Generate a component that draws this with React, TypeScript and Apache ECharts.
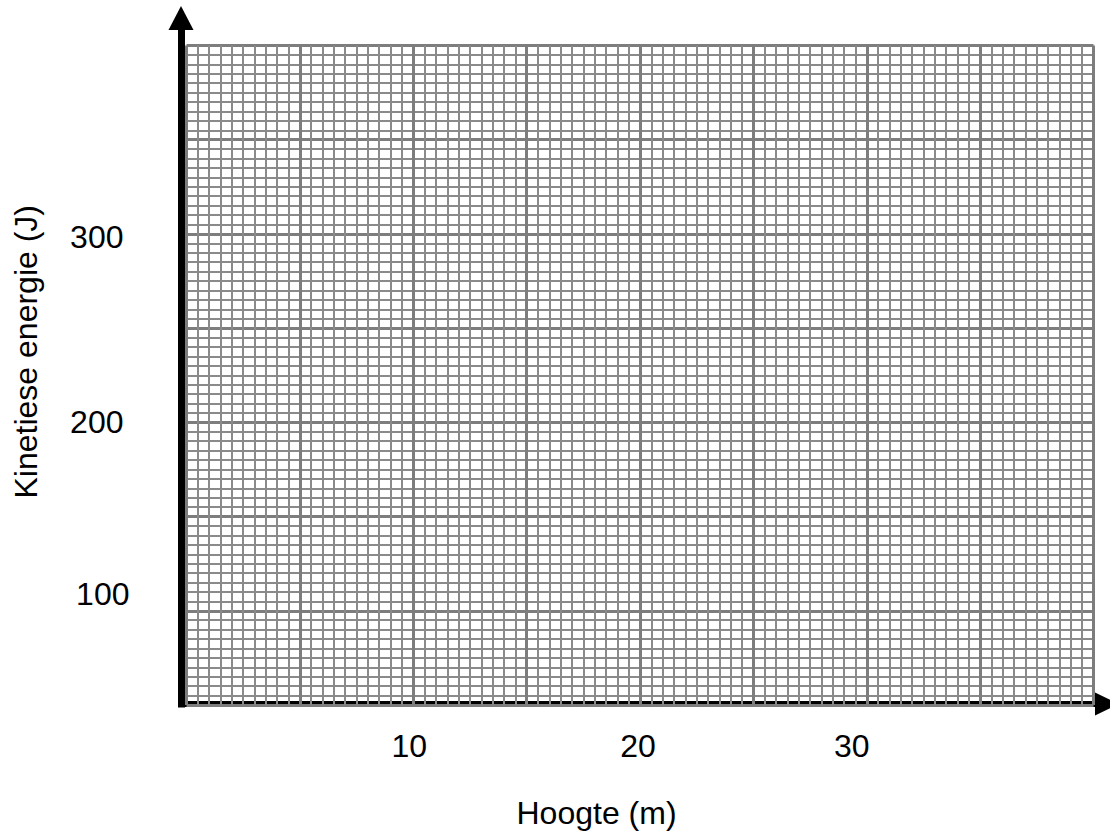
import React, { useEffect, useRef } from "react";
import * as echarts from "echarts";

// Axis ranges and steps (graph paper)
const xRange = [0, 40];
const xMajorStep = 5;
const yRange = [50, 400];
const yMajorStep = 50;
const minorPerMajor = 10;

// Tick labels shown
const xTickLabels = [10, 20, 30];
const yTickLabels = [100, 200, 300];

// Axis titles
const xTitle = "Hoogte (m)";
const yTitle = "Kinetiese energie (J)";

const FONT = "Liberation Sans, Arial, Helvetica, sans-serif";

export default function App() {
  const ref = useRef<HTMLDivElement>(null);

  useEffect(() => {
    if (!ref.current) return;
    const chart = echarts.init(ref.current, undefined, { renderer: "svg" });

    const xRich: Record<string, any> = {
      x10: { padding: [0, 8, 0, 0] },
      x20: { padding: [0, 4, 0, 0] },
      x30: { padding: [0, 30, 0, 0] },
    };
    const yRich: Record<string, any> = {
      y100: { padding: [0, 0, 33, 0] },
      y200: { padding: [0, 6, 0, 0] },
      y300: { padding: [6, 6, 0, 0] },
    };
    const textBase = { fontFamily: FONT, fontSize: 32, color: "#000" };
    Object.keys(xRich).forEach((k) => Object.assign(xRich[k], textBase));
    Object.keys(yRich).forEach((k) => Object.assign(yRich[k], textBase));

    const option: any = {
      animation: false,
      backgroundColor: "#ffffff",
      grid: [
        { left: 186.5, right: 16.5, top: 45.5, bottom: 133, show: false },
        { left: 181, right: 3, top: 18, bottom: 134, show: false },
      ],
      xAxis: [
        {
          gridIndex: 0,
          type: "value",
          min: xRange[0],
          max: xRange[1],
          interval: xMajorStep,
          z: 3,
          axisLine: { show: false },
          axisTick: { show: false },
          minorTick: { show: false, splitNumber: minorPerMajor },
          splitLine: { show: true, lineStyle: { color: "#7d7d7d", width: 3 } },
          minorSplitLine: { show: true, lineStyle: { color: "#8a8a8a", width: 2 } },
          axisLabel: {
            margin: 25,
            fontFamily: FONT,
            fontSize: 32,
            color: "#000",
            formatter: (v: number) =>
              xTickLabels.indexOf(v) >= 0 ? `{x${v}|${v}}` : "",
            rich: xRich,
          },
          name: xTitle,
          nameLocation: "middle",
          nameGap: 92,
          nameTextStyle: {
            fontFamily: FONT,
            fontSize: 32,
            color: "#000",
            padding: [0, 87, 0, 0],
          },
        },
        {
          gridIndex: 1,
          type: "value",
          min: 0,
          max: 1,
          z: 1,
          axisLine: {
            show: true,
            symbol: ["none", "triangle"],
            symbolSize: [23, 24],
            lineStyle: { color: "#000", width: 6, cap: "square" },
          },
          axisTick: { show: false },
          axisLabel: { show: false },
          splitLine: { show: false },
        },
      ],
      yAxis: [
        {
          gridIndex: 0,
          type: "value",
          min: yRange[0],
          max: yRange[1],
          interval: yMajorStep,
          z: 3,
          axisLine: { show: false },
          axisTick: { show: false },
          minorTick: { show: false, splitNumber: minorPerMajor },
          splitLine: { show: true, lineStyle: { color: "#7d7d7d", width: 3 } },
          minorSplitLine: { show: true, lineStyle: { color: "#8a8a8a", width: 2 } },
          axisLabel: {
            margin: 57,
            fontFamily: FONT,
            fontSize: 32,
            color: "#000",
            formatter: (v: number) =>
              yTickLabels.indexOf(v) >= 0 ? `{y${v}|${v}}` : "",
            rich: yRich,
          },
          name: yTitle,
          nameLocation: "middle",
          nameRotate: 90,
          nameGap: 145,
          nameTextStyle: {
            fontFamily: FONT,
            fontSize: 32,
            color: "#000",
            padding: [0, 0, 0, 47],
          },
        },
        {
          gridIndex: 1,
          type: "value",
          min: 0,
          max: 1,
          z: 1,
          axisLine: {
            show: true,
            symbol: ["none", "triangle"],
            symbolSize: [25, 24],
            lineStyle: { color: "#000", width: 7, cap: "square" },
          },
          axisTick: { show: false },
          axisLabel: { show: false },
          splitLine: { show: false },
        },
      ],
      series: [
        { type: "scatter", xAxisIndex: 0, yAxisIndex: 0, data: [] },
      ],
    };

    chart.setOption(option);
    return () => chart.dispose();
  }, []);

  return (
    <div
      ref={ref}
      style={{ position: "absolute", left: 0, top: 0, width: 1110, height: 838 }}
    />
  );
}
